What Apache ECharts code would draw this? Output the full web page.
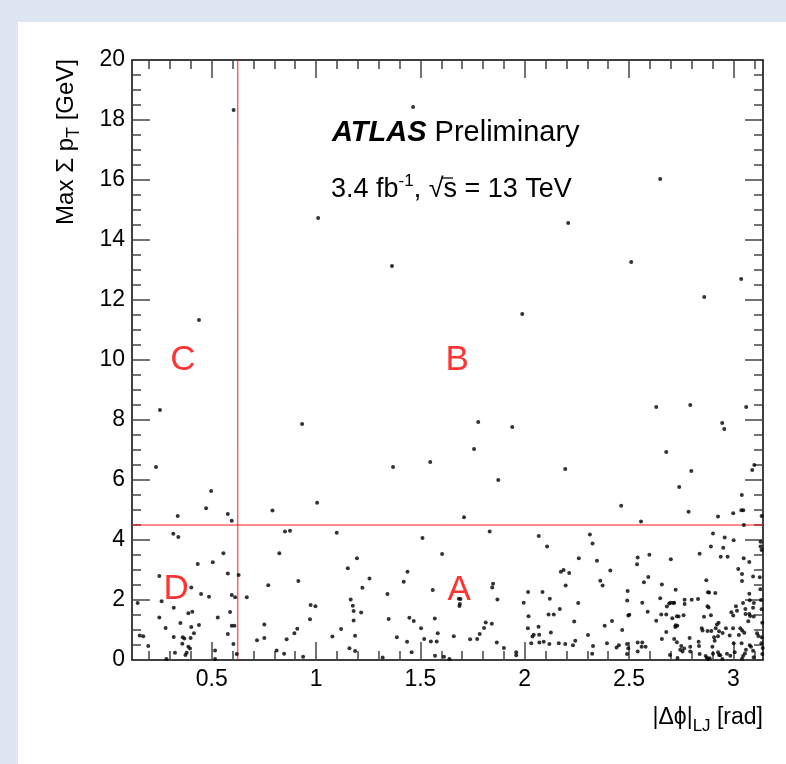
<!DOCTYPE html>
<html><head><meta charset="utf-8">
<script src="https://cdn.jsdelivr.net/npm/echarts@6/dist/echarts.min.js"></script>
<style>html,body{margin:0;padding:0;background:#dde6f1;}#c{width:786px;height:764px;}</style>
</head><body><div id="c"></div>
<script>
// ---- data ----
const ptsAbove = [[0.605,18.33],[0.439,11.33],[0.252,8.33],[0.233,6.43],[0.497,5.63],[0.337,4.80],[0.473,5.06],[0.577,4.87],[0.596,4.64],[0.791,4.98],[1.005,5.24],[0.933,7.87],[1.010,14.73],[1.364,13.13],[1.369,6.43],[1.465,18.43],[1.547,6.60],[1.709,4.76],[1.757,7.03],[1.777,7.93],[1.940,7.77],[1.873,6.0],[1.988,11.53],[2.194,6.37],[2.208,14.57],[2.462,5.14],[2.510,13.27],[2.649,16.03],[2.630,8.43],[2.678,6.93],[2.740,5.77],[2.793,8.50],[2.860,12.10],[2.946,7.90],[2.956,7.70],[2.798,6.30],[3.037,12.70],[3.061,8.43],[3.090,6.33],[3.100,6.50],[3.040,5.50],[2.557,4.62],[2.785,4.94],[2.926,4.78],[2.999,4.89],[3.038,4.99],[3.047,4.99],[3.050,4.50],[3.135,4.80]];
const ptsLowLeft = [[0.316,4.21],[0.340,4.10],[1.099,4.24],[0.851,4.28],[0.875,4.31],[0.556,3.56],[0.824,3.56],[0.433,3.20],[0.505,3.26],[1.152,3.06],[0.249,2.80],[0.577,2.88],[0.629,2.83],[0.402,2.42],[0.771,2.49],[0.915,2.63],[0.449,2.20],[0.487,2.11],[0.596,2.17],[0.612,2.09],[0.668,2.09],[0.145,1.90],[0.260,1.96],[0.318,1.74],[0.388,1.56],[0.407,1.61],[0.588,1.60],[0.974,1.83],[0.997,1.79],[0.249,1.42],[0.529,1.42],[0.350,1.23],[0.596,1.14],[0.609,1.14],[0.752,1.18],[0.439,1.17],[0.402,1.10],[0.279,1.07],[0.155,0.82],[0.172,0.79],[0.318,0.77],[0.415,0.89],[0.361,0.76],[0.369,0.72],[0.399,0.73],[0.577,0.87],[0.910,1.04],[0.896,0.89],[0.859,0.69],[0.752,0.73],[0.717,0.66],[1.078,0.78],[1.120,1.03],[0.196,0.47],[0.359,0.54],[0.388,0.44],[0.396,0.38],[0.604,0.53],[0.971,1.36],[0.324,0.24],[0.380,0.24],[0.374,0.17],[0.516,0.32],[0.620,0.20],[0.811,0.32],[0.847,0.21],[0.938,0.11],[0.283,0.03],[0.516,0.03],[1.160,0.39]];
const ptsLowMid = [[1.832,4.28],[2.067,4.13],[2.107,3.78],[1.510,4.07],[1.604,3.53],[1.196,3.39],[1.256,2.72],[1.222,2.41],[1.438,2.94],[1.420,2.61],[1.342,2.20],[1.559,2.33],[1.684,2.04],[1.692,2.03],[1.689,1.87],[1.687,1.80],[1.848,2.54],[1.844,2.42],[1.869,2.02],[2.085,2.27],[1.995,1.91],[2.016,2.27],[2.120,2.04],[2.114,1.52],[2.139,1.52],[2.168,1.70],[2.018,1.46],[2.015,1.06],[2.066,1.11],[2.037,0.78],[2.043,0.84],[2.069,0.84],[2.125,0.92],[2.031,0.56],[2.070,0.58],[2.091,0.61],[2.118,0.53],[2.163,0.56],[1.166,2.02],[1.176,1.81],[1.180,1.63],[1.180,1.32],[1.187,0.81],[1.187,0.30],[1.216,1.58],[1.319,0.08],[1.348,1.37],[1.387,0.76],[1.436,0.61],[1.458,0.26],[1.447,1.41],[1.468,1.30],[1.503,1.06],[1.518,0.70],[1.550,0.62],[1.578,0.62],[1.569,1.38],[1.583,0.89],[1.570,0.14],[1.613,0.11],[1.639,0.03],[1.660,0.79],[1.738,0.69],[1.772,0.70],[1.784,0.87],[1.805,1.07],[1.813,1.25],[1.842,1.21],[1.866,0.58],[1.900,0.40],[1.959,0.26],[1.959,0.16]];
const ptsLowRight = [[2.312,4.18],[2.325,3.88],[2.902,4.22],[2.958,4.08],[3.001,3.99],[3.130,3.94],[3.130,3.78],[3.135,3.67],[2.892,3.78],[2.951,3.74],[2.939,3.44],[2.972,3.44],[2.838,3.54],[3.049,3.39],[3.076,3.27],[2.259,3.39],[2.346,3.31],[2.541,3.42],[2.538,3.19],[2.597,3.51],[2.700,3.36],[2.186,3.00],[2.213,2.90],[2.173,2.94],[2.196,2.48],[2.410,2.98],[2.362,2.64],[2.373,2.48],[2.571,2.59],[2.592,2.77],[2.657,2.52],[2.723,2.34],[3.023,3.03],[3.041,2.87],[3.041,2.63],[3.094,2.78],[3.126,2.76],[2.870,2.66],[2.878,2.26],[2.883,2.25],[2.913,2.23],[2.830,2.03],[2.649,2.06],[2.493,2.30],[2.491,1.98],[2.256,1.90],[2.563,1.91],[2.589,1.61],[2.501,1.51],[2.496,1.48],[2.630,1.31],[2.654,1.52],[2.678,1.52],[2.681,1.78],[2.692,1.88],[2.712,1.90],[2.699,1.91],[2.716,1.91],[2.766,2.01],[2.766,1.87],[2.800,2.01],[2.707,1.39],[2.729,1.46],[2.737,1.45],[2.723,1.16],[2.731,1.14],[2.721,1.10],[2.761,1.49],[2.876,1.79],[2.881,1.75],[2.859,1.44],[2.892,1.49],[2.929,1.24],[2.921,1.18],[2.990,1.59],[2.999,1.48],[3.012,1.79],[3.017,1.64],[3.046,1.90],[3.057,1.70],[3.058,1.53],[3.071,1.29],[3.076,1.53],[3.098,1.90],[3.094,1.74],[3.097,1.45],[3.078,1.99],[3.076,2.21],[3.135,1.69],[3.138,1.24],[2.237,1.28],[2.418,1.30],[2.383,1.14],[2.467,1.00],[2.303,0.83],[2.194,0.53],[2.231,0.49],[2.242,0.64],[2.327,0.47],[2.394,0.56],[2.440,0.42],[2.451,0.49],[2.323,0.21],[2.490,0.53],[2.496,0.39],[2.490,0.20],[2.541,0.58],[2.541,0.28],[2.563,0.58],[2.560,0.44],[2.579,0.44],[2.657,0.70],[2.678,0.93],[2.696,0.17],[2.716,0.70],[2.729,0.59],[2.745,0.34],[2.750,0.47],[2.756,0.28],[2.764,0.38],[2.732,0.07],[2.793,0.28],[2.790,0.73],[2.833,0.61],[2.835,0.47],[2.838,0.20],[2.793,0.44],[2.848,1.06],[2.852,0.98],[2.876,0.97],[2.894,0.97],[2.915,1.06],[2.931,0.96],[2.907,0.76],[2.926,0.79],[2.910,0.64],[2.948,0.90],[2.982,0.82],[2.964,1.06],[2.998,1.06],[3.033,1.06],[2.867,0.13],[2.878,0.03],[2.873,0.07],[2.886,0.06],[2.899,0.44],[2.902,0.21],[2.926,0.26],[2.937,0.16],[2.947,0.03],[2.931,0.17],[2.969,0.21],[2.985,0.14],[3.001,0.56],[3.006,0.26],[3.026,0.83],[3.042,0.98],[3.052,0.91],[3.039,0.56],[3.041,0.04],[3.046,0.13],[3.055,0.22],[3.060,0.34],[3.078,0.49],[3.084,0.44],[3.094,0.31],[3.097,0.09],[3.113,0.89],[3.119,0.80],[3.135,0.76],[3.134,0.56],[3.140,0.40],[3.138,0.20],[3.129,2.36],[3.132,2.00],[3.080,1.47]];
const xMajorTicks = [0.5, 1, 1.5, 2, 2.5, 3];
const xMinorTicks = [0.2,0.3,0.4,0.6,0.7,0.8,0.9,1.1,1.2,1.3,1.4,1.6,1.7,1.8,1.9,2.1,2.2,2.3,2.4,2.6,2.7,2.8,2.9,3.1];
const xRange = [0.118, Math.PI];
const yRange = [0, 20];
const yStep = 2;
const cutX = 0.625;
const cutY = 4.5;
const regionNames = ['C', 'B', 'D', 'A'];
const regionPos = [[0.362, 10], [1.676, 10], [0.329, 2.37], [1.686, 2.33]];

// ---- chart ----
const FONT = '"Liberation Sans", Arial, Helvetica, sans-serif';
const RED = '#ff1a1a';
const chart = echarts.init(document.getElementById('c'), null, {renderer: 'canvas'});
const axisLineStyle = {color: '#000', width: 1.5};
const tickStyle = {color: '#444', width: 1.5};
function xAx(pos, ticks, len, labels, line) {
  return {
    type: 'value', min: xRange[0], max: xRange[1], position: pos,
    axisLine: {show: line, onZero: false, lineStyle: axisLineStyle},
    axisTick: {show: true, inside: true, length: len, customValues: ticks, lineStyle: tickStyle},
    axisLabel: labels ? {show: true, customValues: ticks, fontSize: 23, color: '#000', fontFamily: FONT, margin: 8} : {show: false},
    splitLine: {show: false}
  };
}
function yAx(pos, labels) {
  return {
    type: 'value', min: yRange[0], max: yRange[1], interval: yStep, position: pos,
    axisLine: {show: true, onZero: false, lineStyle: axisLineStyle},
    axisTick: {show: true, inside: true, length: 18, lineStyle: tickStyle},
    minorTick: {show: true, splitNumber: 4, length: 9, lineStyle: tickStyle},
    axisLabel: labels ? {show: true, fontSize: 23, color: '#000', fontFamily: FONT, margin: 7} : {show: false},
    splitLine: {show: false}
  };
}
const allPts = ptsAbove.concat(ptsLowLeft, ptsLowMid, ptsLowRight);
chart.setOption({
  animation: false,
  backgroundColor: 'transparent',
  grid: {left: 132, top: 60, width: 631, height: 600, containLabel: false},
  xAxis: [
    xAx('bottom', xMajorTicks, 18, true, true),
    xAx('bottom', xMinorTicks, 9, false, false),
    xAx('top', xMajorTicks, 18, false, true),
    xAx('top', xMinorTicks, 9, false, false)
  ],
  yAxis: [yAx('left', true), yAx('right', false)],
  graphic: [
    {type: 'rect', z: -10, silent: true, shape: {x: 18, y: 22, width: 800, height: 800}, style: {fill: '#fff'}},
    {type: 'text', x: 332, y: 133, style: {
      text: '{b|ATLAS} Preliminary', font: '29px ' + FONT, fill: '#000', textVerticalAlign: 'middle',
      rich: {b: {fontWeight: 'bold', fontStyle: 'italic', fontSize: 29, fontFamily: FONT}}
    }},
    {type: 'text', x: 331, y: 190, style: {
      text: '3.4 fb{sup|-1}, √s = 13 TeV', font: '27px ' + FONT, fill: '#000', textVerticalAlign: 'middle', lineHeight: 34,
      rich: {sup: {fontSize: 17, fontFamily: FONT, verticalAlign: 'top', lineHeight: 34}}
    }},
    {type: 'line', silent: true, shape: {x1: 441, y1: 178, x2: 453, y2: 178}, style: {stroke: '#000', lineWidth: 1.3}},
    {type: 'text', x: 763, y: 718, style: {
      text: '|Δϕ|{sub|LJ} [rad]', font: '23px ' + FONT, fill: '#000', textAlign: 'right', textVerticalAlign: 'middle', lineHeight: 34,
      rich: {sub: {fontSize: 17, fontFamily: FONT, verticalAlign: 'bottom', lineHeight: 34}}
    }},
    {type: 'text', x: 66, y: 59, rotation: Math.PI / 2, style: {
      text: 'Max Σ p{sub|T} [GeV]', font: '24px ' + FONT, fill: '#000', textAlign: 'right', textVerticalAlign: 'middle', lineHeight: 34,
      rich: {sub: {fontSize: 18, fontFamily: FONT, verticalAlign: 'bottom', lineHeight: 34}}
    }}
  ],
  series: [
    {
      type: 'line', xAxisIndex: 0, yAxisIndex: 0, silent: true, symbol: 'none', z: 2,
      lineStyle: {color: RED, width: 1}, itemStyle: {color: RED},
      data: [[cutX, yRange[0]], [cutX, yRange[1]]]
    },
    {
      type: 'line', xAxisIndex: 0, yAxisIndex: 0, silent: true, symbol: 'none', z: 2,
      lineStyle: {color: RED, width: 1}, itemStyle: {color: RED},
      data: [[xRange[0], cutY], [xRange[1], cutY]]
    },
    {
      type: 'scatter', xAxisIndex: 0, yAxisIndex: 0, data: allPts, symbol: 'circle', symbolSize: 4,
      itemStyle: {color: '#000'}, silent: true, z: 3
    },
    {
      type: 'scatter', xAxisIndex: 0, yAxisIndex: 0, symbolSize: 1, silent: true, z: 4,
      itemStyle: {color: 'rgba(0,0,0,0)'},
      data: regionPos.map((p, i) => ({name: regionNames[i], value: p})),
      label: {show: true, position: 'inside', formatter: '{b}', color: '#ff0000', fontSize: 35, fontFamily: FONT}
    }
  ]
});
</script></body></html>
